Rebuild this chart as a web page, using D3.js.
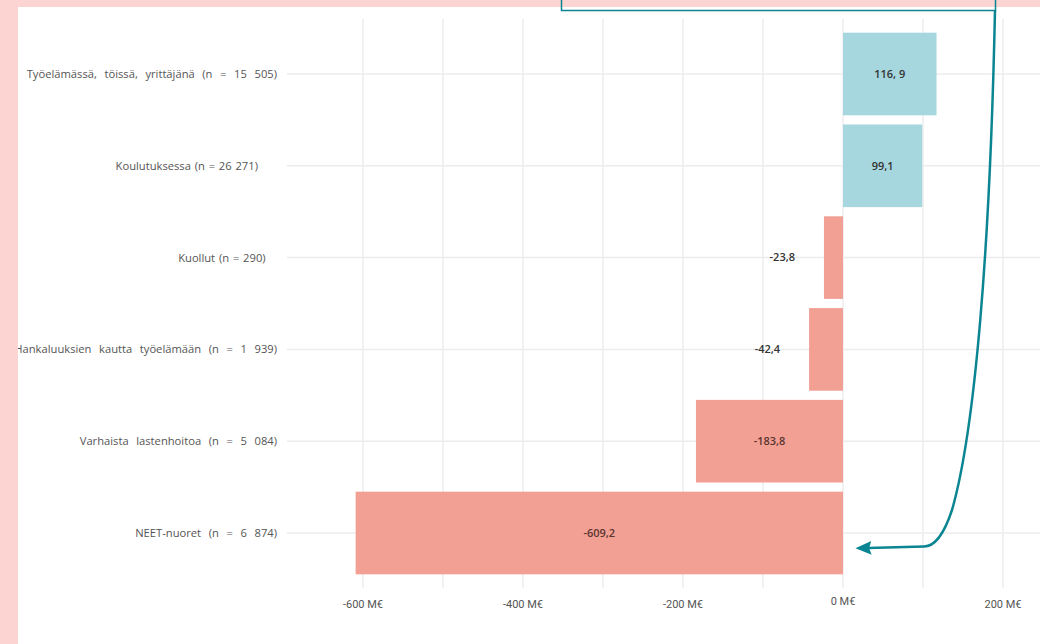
<!DOCTYPE html>
<html>
<head>
<meta charset="utf-8">
<script src="https://cdn.jsdelivr.net/npm/d3@7"></script>
<style>
  html, body { margin: 0; padding: 0; background: #ffffff; }
  svg { display: block; }
  text { white-space: pre; }
</style>
</head>
<body>
<svg id="chart" width="1040" height="644"></svg>
<script>
// Categories (top to bottom) and net effect in million euros
const categories = [
  "Työelämässä,  töissä,  yrittäjänä  (n  =  15  505)",
  "Koulutuksessa (n = 26 271)     ",
  "Kuollut (n = 290)   ",
  "Hankaluuksien  kautta  työelämään  (n  =  1  939)",
  "Varhaista  lastenhoitoa  (n  =  5  084)",
  "NEET-nuoret  (n  =  6  874)"
];
const values = [116.9, 99.1, -23.8, -42.4, -183.8, -609.2];
const valueLabels = ["116, 9", "99,1", "-23,8", "-42,4", "-183,8", "-609,2"];
const gridTicks = [-600, -500, -400, -300, -200, -100, 0, 100, 200];
const axisTicks = [-600, -400, -200, 0, 200];
const axisTickLabels = ["-600 M€", "-400 M€", "-200 M€", "0 M€", "200 M€"];

const W = 1040, H = 644;
const svg = d3.select("#chart");
const FONT = "'Open Sans', 'DejaVu Sans', sans-serif";

const x = d3.scaleLinear().domain([-600, 200]).range([363, 1003]);
const y = d3.scaleBand().domain(categories).range([28.1, 578.9])
  .paddingInner(0.1).paddingOuter(0.05);

// white panel
svg.append("rect").attr("x", 0).attr("y", 0).attr("width", W).attr("height", H)
  .attr("fill", "#ffffff");

// vertical gridlines
svg.append("g").selectAll("line").data(gridTicks).join("line")
  .attr("x1", d => x(d)).attr("x2", d => x(d))
  .attr("y1", 19).attr("y2", 588)
  .attr("stroke", "#ececec").attr("stroke-width", 1.5);

// horizontal gridlines at each category
svg.append("g").selectAll("line").data(categories).join("line")
  .attr("x1", 287).attr("x2", W)
  .attr("y1", d => y(d) + y.bandwidth() / 2)
  .attr("y2", d => y(d) + y.bandwidth() / 2)
  .attr("stroke", "#ececec").attr("stroke-width", 1.5);

// bars
const rows = categories.map((c, i) => ({ c, v: values[i], label: valueLabels[i] }));
svg.append("g").selectAll("rect").data(rows).join("rect")
  .attr("x", d => x(Math.min(0, d.v)))
  .attr("width", d => Math.abs(x(d.v) - x(0)))
  .attr("y", d => y(d.c))
  .attr("height", y.bandwidth())
  .attr("fill", d => d.v >= 0 ? "#a6d7df" : "#f2a094");

// value labels: centred in wide bars, outside to the left for narrow ones
const narrow = d => Math.abs(x(d.v) - x(0)) < 60;
svg.append("g").selectAll("text").data(rows).join("text")
  .attr("x", d => narrow(d) ? x(d.v) - 29 : (x(d.v) + x(0)) / 2)
  .attr("text-anchor", d => narrow(d) ? "end" : "middle")
  .attr("y", d => y(d.c) + y.bandwidth() / 2)
  .attr("dy", "0.35em")
  .attr("font-family", FONT).attr("font-size", 11).attr("font-weight", 600)
  .attr("fill", d => d.v < -100 ? "#5a3431" : "#333333")
  .text(d => d.label);

// category labels (the spaced-out ones get wider word gaps)
svg.append("g").selectAll("text").data(categories).join("text")
  .attr("x", 277).attr("text-anchor", "end")
  .attr("y", d => y(d) + y.bandwidth() / 2)
  .attr("dy", "0.35em")
  .attr("font-family", FONT).attr("font-size", 11.2)
  .attr("word-spacing", d => d.includes("  ") ? 0.9 : 0)
  .attr("fill", "#555555")
  .text(d => d);

// x axis tick labels
svg.append("g").selectAll("text").data(axisTicks).join("text")
  .attr("x", d => x(d)).attr("text-anchor", "middle")
  .attr("y", (d, i) => axisTickLabels[i] === "0 M€" ? 605 : 608)
  .attr("font-family", "Roboto, 'DejaVu Sans', sans-serif").attr("font-size", 11)
  .attr("fill", "#555555")
  .text((d, i) => axisTickLabels[i]);

// page frame: pink band along the top and left edge
svg.append("rect").attr("x", 0).attr("y", 0).attr("width", W).attr("height", 7)
  .attr("fill", "#fcd5d2");
svg.append("rect").attr("x", 0).attr("y", 0).attr("width", 18).attr("height", H)
  .attr("fill", "#fcd5d2");

// callout box edge and connector arrow pointing at the NEET bar
const teal = "#0b8592";
svg.append("rect").attr("x", 561.5).attr("y", -10).attr("width", 434).attr("height", 20.5)
  .attr("fill", "none").attr("stroke", teal).attr("stroke-width", 1.5);

const defs = svg.append("defs");
defs.append("marker").attr("id", "head")
  .attr("viewBox", "0 0 14 12").attr("refX", 3).attr("refY", 6)
  .attr("markerWidth", 16).attr("markerHeight", 14)
  .attr("markerUnits", "userSpaceOnUse").attr("orient", "auto")
  .append("path").attr("d", "M14,6 L0,0 L2,6 L0,12 Z").attr("fill", teal);

const target = y(categories[5]) + y.bandwidth() / 2 + 15;
svg.append("path")
  .attr("d", `M995,10 C990,250 975,430 952,510 Q940,546.5 924,546.5 L868,${target}`)
  .attr("fill", "none").attr("stroke", teal).attr("stroke-width", 2.5)
  .attr("marker-end", "url(#head)");
</script>
</body>
</html>
